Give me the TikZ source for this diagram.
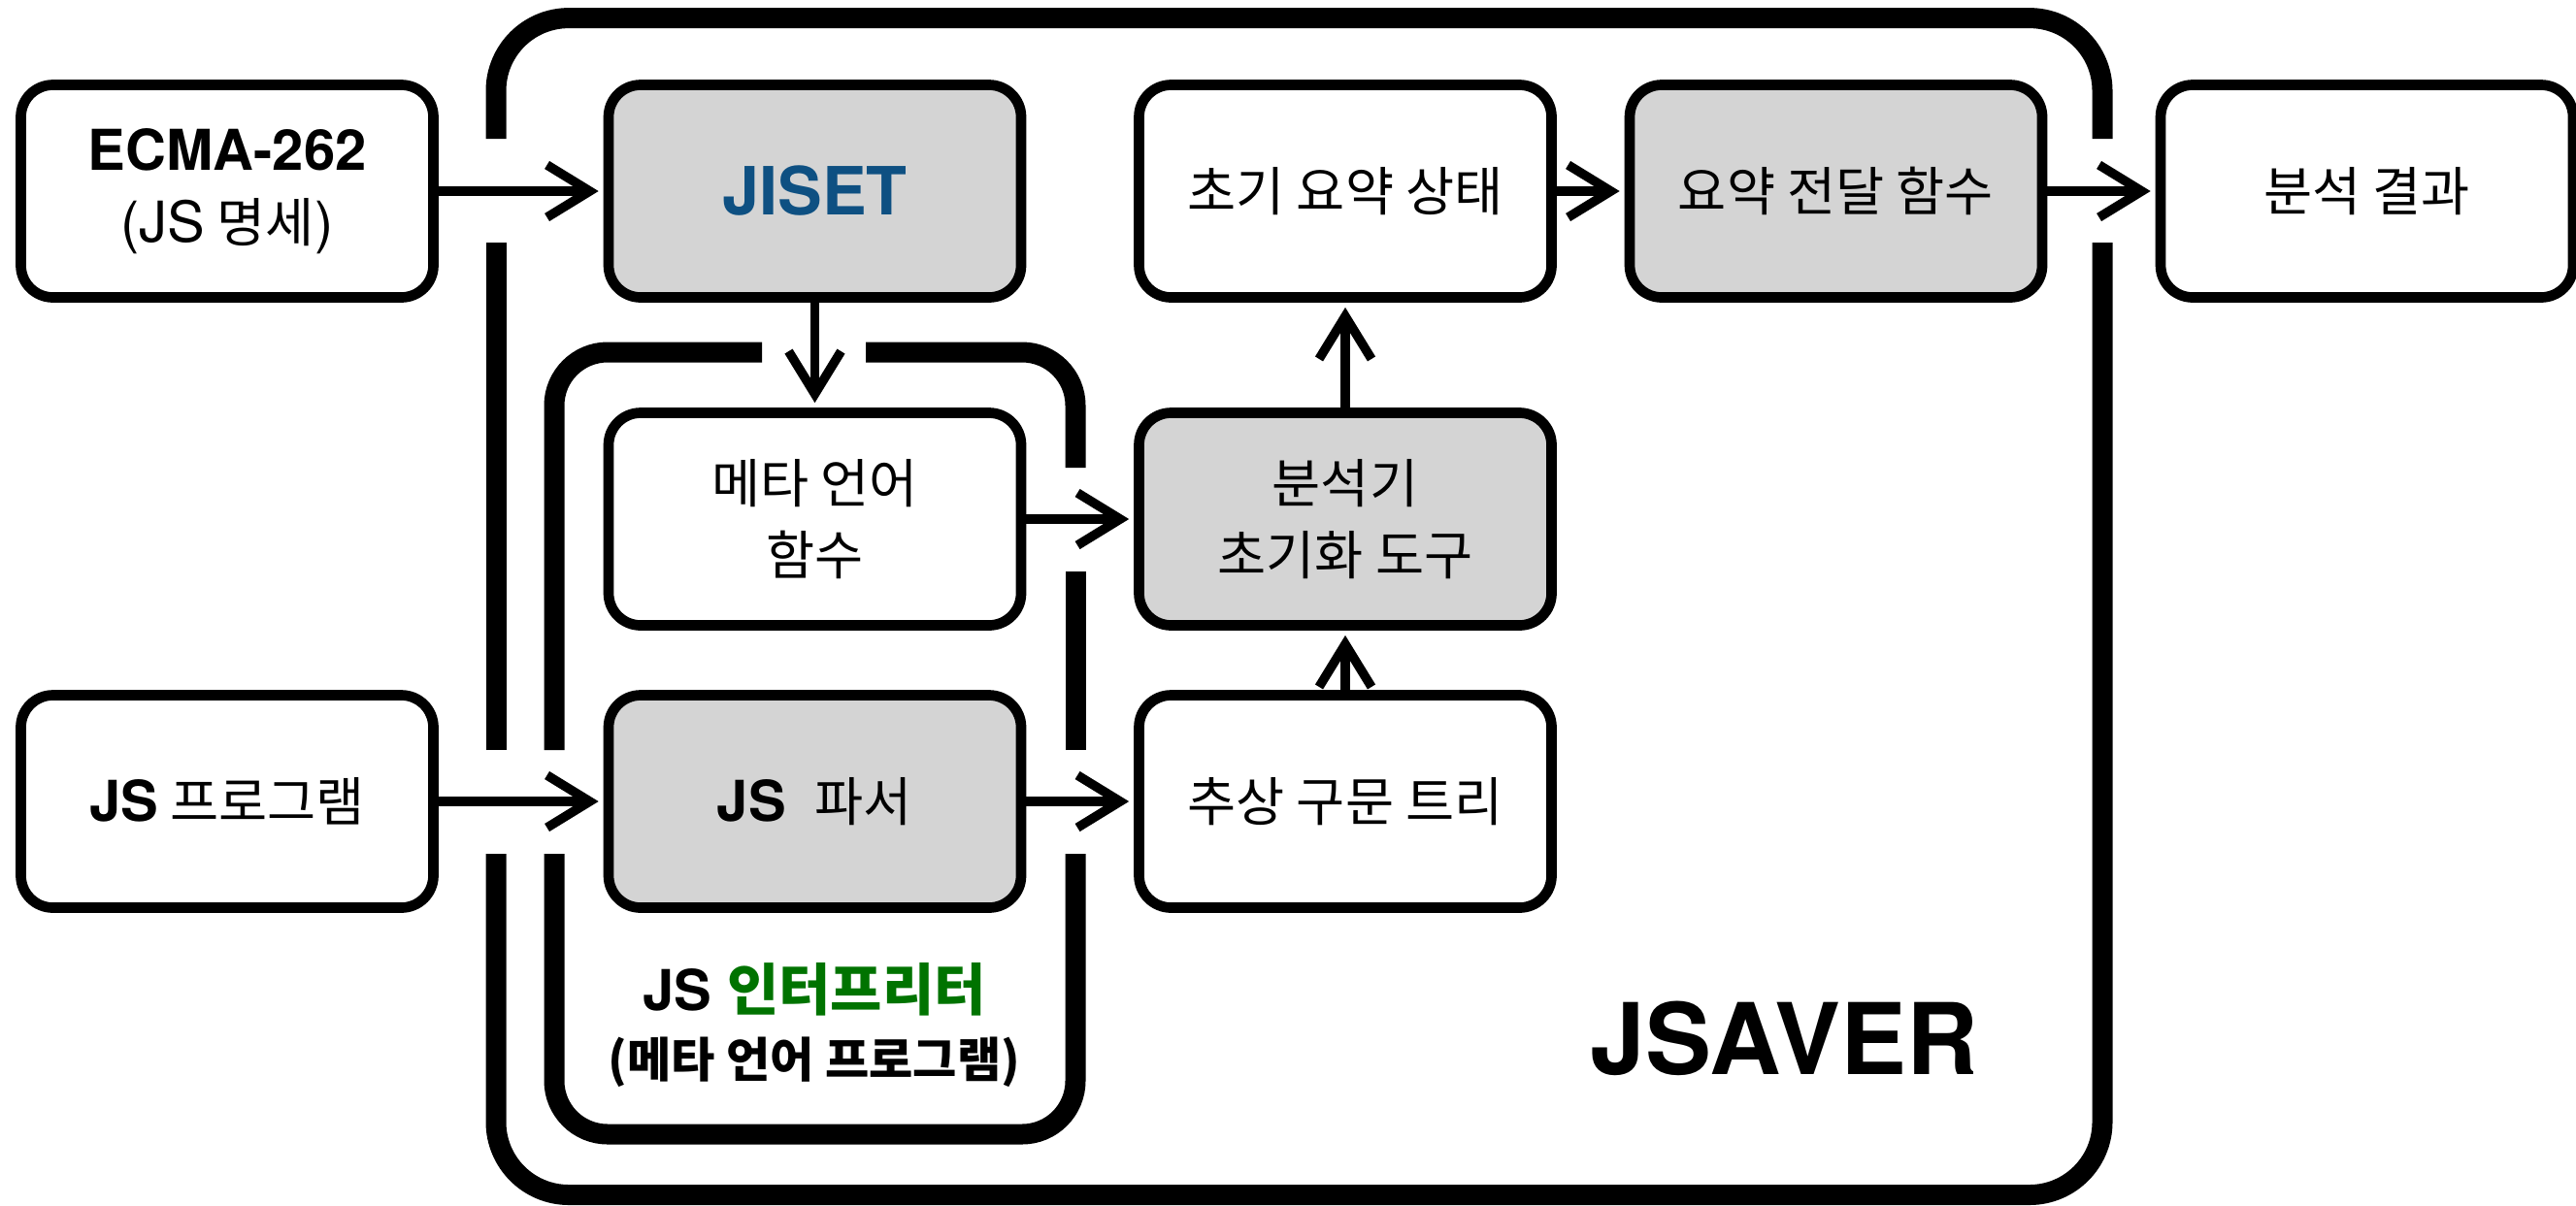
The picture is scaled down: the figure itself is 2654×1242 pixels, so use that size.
\documentclass[tikz,border=0pt]{standalone}
\usepackage{fontspec}
\setmainfont{TeX Gyre Heros}
\newfontfamily\kr{Noto Sans CJK KR}
\usetikzlibrary{arrows.meta}
\definecolor{boxgray}{RGB}{212,212,212}
\definecolor{jisetblue}{RGB}{14,80,130}
\definecolor{interpgreen}{RGB}{0,115,0}
\begin{document}
\begin{tikzpicture}[x=0.1mm,y=-0.1mm,
  box/.style={draw, line width=1.07mm, rounded corners=3.3mm,
    minimum width=42.5mm, minimum height=21.9mm, align=center, inner sep=0pt,
    font=\fontsize{15.5}{21}\selectfont\kr},
  graybox/.style={box, fill=boxgray},
  whitebox/.style={box, fill=white},
  arr/.style={line width=0.95mm, -{Straight Barb[length=4.4mm,width=5.4mm]}, shorten >=0.5mm},
  outerframe/.style={line width=2.1mm, rounded corners=7.5mm},
  innerframe/.style={line width=2.1mm, rounded corners=5.5mm}]
\useasboundingbox (0,0) rectangle (2654,1242);
% frames
\draw[outerframe] (511,143) -- (511,18.6) -- (2166,18.6) -- (2166,143);
\draw[outerframe] (2166,250) -- (2166,1231.5) -- (511,1231.5) -- (511,880);
\draw[outerframe] (511,773) -- (511,250);
\draw[innerframe] (785,363) -- (571,363) -- (571,773);
\draw[innerframe] (571,880) -- (571,1169) -- (1108,1169) -- (1108,880);
\draw[innerframe] (1108,773) -- (1108,589);
\draw[innerframe] (1108,482) -- (1108,363) -- (892,363);
% nodes
\node[whitebox] (ecma) at (234,197) {{\rmfamily\fontsize{16.5}{21}\selectfont\bfseries ECMA-262}\\{\rmfamily\fontsize{16.5}{21}\selectfont (JS} 명세{\rmfamily\fontsize{16.5}{21}\selectfont )}};
\node[graybox] (jiset) at (839.5,197) {\rmfamily\fontsize{19.5}{22}\selectfont\bfseries\color{jisetblue}JISET};
\node[whitebox] (init) at (1386,197) {초기 요약 상태};
\node[graybox] (transfer) at (1891.5,197) {요약 전달 함수};
\node[whitebox] (result) at (2438.5,197) {분석 결과};
\node[whitebox] (meta) at (839.5,535) {메타 언어\\함수};
\node[graybox] (analyzer) at (1386,535) {분석기\\초기화 도구};
\node[whitebox] (prog) at (234,826) {{\rmfamily\fontsize{16.5}{21}\selectfont\bfseries JS} 프로그램};
\node[graybox] (parser) at (839.5,826) {{\rmfamily\fontsize{16.5}{21}\selectfont\bfseries JS}\hspace{3mm}파서};
\node[whitebox] (ast) at (1386,826) {추상 구문 트리};
\node (interp) at (839,1020) {\fontsize{16.5}{20}\selectfont\bfseries JS {\kr\color{interpgreen}인터프리터}};
\node (interpsub) at (839,1095) {\kr\fontsize{14}{18}\selectfont\bfseries (메타 언어 프로그램)};
\node (jsaver) at (1838,1070) {\fontsize{29}{30}\selectfont\bfseries JSAVER};
% arrows
\draw[arr] (ecma) -- (jiset);
\draw[arr] (jiset) -- (meta);
\draw[arr] (meta) -- (analyzer);
\draw[arr] (prog) -- (parser);
\draw[arr] (parser) -- (ast);
\draw[arr] (ast) -- (analyzer);
\draw[arr] (analyzer) -- (init);
\draw[arr] (init) -- (transfer);
\draw[arr] (transfer) -- (result);
\end{tikzpicture}
\end{document}
